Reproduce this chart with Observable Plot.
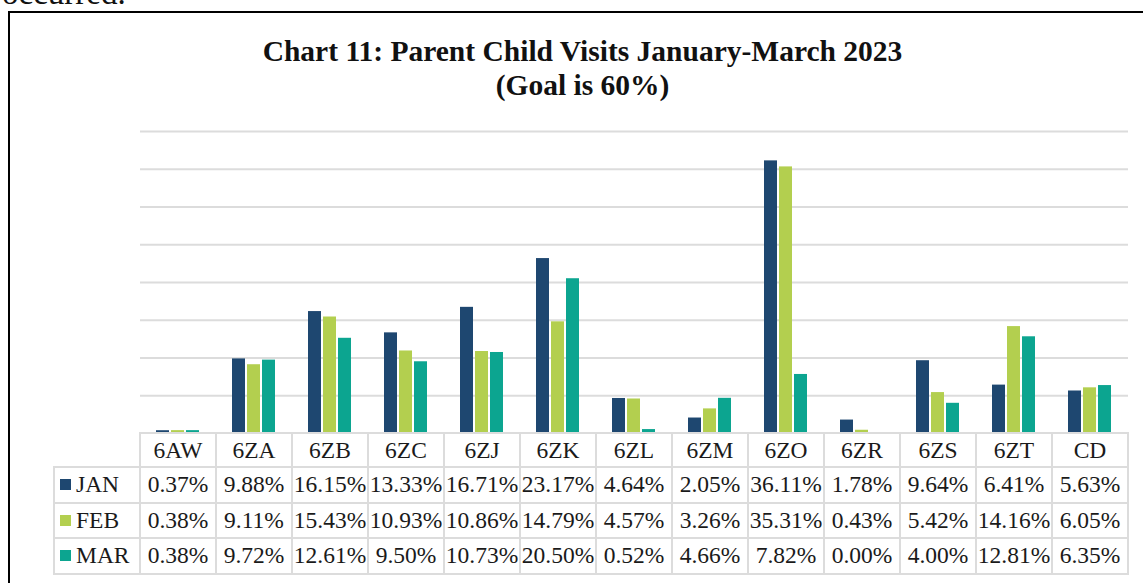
<!DOCTYPE html>
<html>
<head>
<meta charset="utf-8">
<script src="https://cdn.jsdelivr.net/npm/d3@7"></script>
<script src="https://cdn.jsdelivr.net/npm/@observablehq/plot@0.6"></script>
<style>
  html, body { margin: 0; padding: 0; width: 1143px; height: 583px; overflow: hidden; background: #fff; }
  body { position: relative; font-family: "Liberation Serif", "Times New Roman", serif; color: #111; }
  #above { position: absolute; left: 2px; top: -23px; font-size: 33px; line-height: 33px; white-space: nowrap; }
  #frame { position: absolute; left: 8px; top: 11px; width: 1300px; height: 800px; border: 2px solid #000; box-sizing: border-box; }
  #title { position: absolute; left: 0; width: 1165px; top: 33.5px; text-align: center; font-weight: bold; font-size: 29.5px; line-height: 34.5px; color: #111; }
  #chart { position: absolute; left: 0; top: 110px; }
  #tbl { position: absolute; left: 53px; top: 432px; border-collapse: collapse; table-layout: fixed; font-size: 23.5px; color: #1a1a1a; }
  #tbl td { border: 2px solid #dcdcdc; text-align: center; padding: 0; white-space: nowrap; overflow: visible; }
  #tbl td.blank { border: none; }
  #tbl td.lab { text-align: left; padding-left: 5px; }
  #tbl .sw { display: inline-block; width: 11px; height: 11px; margin-right: 5px; vertical-align: 2px; }
</style>
</head>
<body>
<div id="above">occurred.</div>
<div id="frame"></div>
<div id="title">Chart 11: Parent Child Visits January-March 2023<br>(Goal is 60%)</div>
<div id="chart"></div>
<table id="tbl"></table>
<script>
const categories = ["6AW","6ZA","6ZB","6ZC","6ZJ","6ZK","6ZL","6ZM","6ZO","6ZR","6ZS","6ZT","CD"];
const months = ["JAN","FEB","MAR"];
const jan = [0.37, 9.88, 16.15, 13.33, 16.71, 23.17, 4.64, 2.05, 36.11, 1.78, 9.64, 6.41, 5.63];
const feb = [0.38, 9.11, 15.43, 10.93, 10.86, 14.79, 4.57, 3.26, 35.31, 0.43, 5.42, 14.16, 6.05];
const mar = [0.38, 9.72, 12.61, 9.50, 10.73, 20.50, 0.52, 4.66, 7.82, 0.00, 4.00, 12.81, 6.35];
const colors = ["#1e4770", "#b3cf4f", "#0ca590"];
const gridTicks = [0, 5, 10, 15, 20, 25, 30, 35, 40];

const series = [jan, feb, mar];
const data = categories.flatMap((c, i) => months.map((m, j) => ({category: c, month: m, value: series[j][i]})));

const chart = Plot.plot({
  width: 1143,
  height: 323,
  marginLeft: 140,
  marginRight: 15,
  marginTop: 21,
  marginBottom: 0,
  fx: {domain: categories, padding: 0, axis: null},
  x: {domain: months, paddingInner: 0.12, paddingOuter: 1.0, axis: null},
  y: {domain: [0, 40], axis: null},
  color: {domain: months, range: colors},
  marks: [
    Plot.ruleY(gridTicks, {stroke: "#dcdcdc", strokeWidth: 2}),
    Plot.barY(data, {fx: "category", x: "month", y: "value", fill: "month"})
  ]
});
document.getElementById("chart").appendChild(chart);

// data table
const tbl = document.getElementById("tbl");
const colW = (1143 - 140 - 15) / categories.length;
const cg = document.createElement("colgroup");
const c0 = document.createElement("col"); c0.style.width = "86px"; cg.appendChild(c0);
categories.forEach(() => { const c = document.createElement("col"); c.style.width = colW + "px"; cg.appendChild(c); });
tbl.appendChild(cg);
const hr = document.createElement("tr"); hr.style.height = "34px";
const blank = document.createElement("td"); blank.className = "blank"; hr.appendChild(blank);
categories.forEach(c => { const td = document.createElement("td"); td.textContent = c; hr.appendChild(td); });
tbl.appendChild(hr);
months.forEach((m, j) => {
  const tr = document.createElement("tr"); tr.style.height = "35.5px";
  const lab = document.createElement("td"); lab.className = "lab";
  const sw = document.createElement("span"); sw.className = "sw"; sw.style.background = colors[j];
  lab.appendChild(sw); lab.appendChild(document.createTextNode(m));
  tr.appendChild(lab);
  series[j].forEach(v => { const td = document.createElement("td"); td.textContent = v.toFixed(2) + "%"; tr.appendChild(td); });
  tbl.appendChild(tr);
});
</script>
</body>
</html>
